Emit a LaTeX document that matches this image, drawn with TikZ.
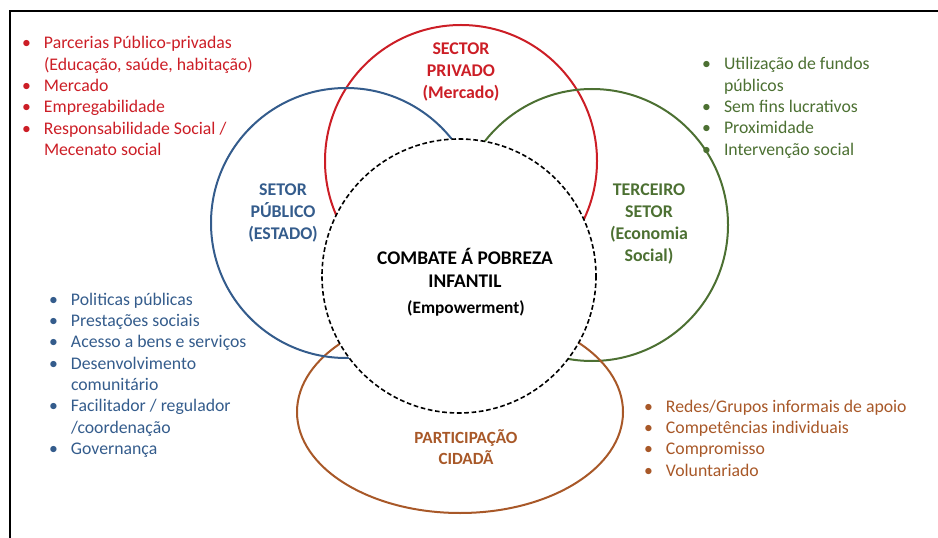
\documentclass[tikz,border=0pt]{standalone}
\usepackage{fontspec}
\setmainfont{Carlito}
\usetikzlibrary{positioning}
\definecolor{privred}{RGB}{204,30,38}
\definecolor{pubblue}{RGB}{52,92,140}
\definecolor{tercgreen}{RGB}{76,112,50}
\definecolor{cidbrown}{RGB}{168,88,40}
\newcommand{\itm}{\makebox[16.5pt][l]{\textbullet}}
\newcommand{\txt}{\fontsize{13.3}{16}\selectfont}

\begin{document}
\begin{tikzpicture}[x=0.75pt,y=-0.75pt,line width=1.5pt,
        setor/.style={align=center,inner sep=0pt,font=\fontsize{13.4}{16.5}\selectfont\bfseries},
        lista/.style={anchor=base west,inner sep=0pt,font=\txt}]
    \useasboundingbox (0,0) rectangle (938,538);
    \draw (938,11) -- (10,11) -- (10,538);
    % circulos
    \draw[privred] (461,161) circle [radius=136];
    \draw[tercgreen] (592,225) circle [radius=136];
    \draw[cidbrown] (460,412) ellipse [x radius=163, y radius=101];
    \draw[pubblue] (346,223) circle [radius=135];
    \draw[dash pattern=on 3.5pt off 2pt,line width=1.2pt,fill=white] (459,276) circle [radius=137];
    % titulos
    \node[setor,text=privred] (privado) at (461,72) {SECTOR\\PRIVADO\\(Mercado)};
    \node[setor,text=pubblue] (publico) at (283,213) {SETOR\\PÚBLICO\\(ESTADO)};
    \node[setor,text=tercgreen] (terceiro) at (649,224) {TERCEIRO\\SETOR\\(Economia\\Social)};
    \node[setor,font=\fontsize{14.5}{17}\selectfont\bfseries] (combate) at (465,268) {COMBATE Á POBREZA\\INFANTIL};
    \node[setor,font=\fontsize{13}{15}\selectfont\bfseries] (empower) at (466,308) {(Empowerment)};
    \node[setor,text=cidbrown,font=\fontsize{12.8}{16}\selectfont\bfseries] (cidada) at (466,447) {PARTICIPAÇÃO\\CIDADÃ};
    % listas
    \node[lista,text=privred] (listaPrivado) at (21,49) {\begin{tabular}[t]{@{}l@{}l@{}}
        \itm & Parcerias Público-privadas\\
             & (Educação, saúde, habitação)\\
        \itm & Mercado\\
        \itm & Empregabilidade\\
        \itm & Responsabilidade Social /\\
             & Mecenato social
    \end{tabular}};
    \node[lista,text=tercgreen] (listaTerceiro) at (701,70) {\begin{tabular}[t]{@{}l@{}l@{}}
        \itm & Utilização de fundos\\
             & públicos\\
        \itm & Sem fins lucrativos\\
        \itm & Proximidade\\
        \itm & Intervenção social
    \end{tabular}};
    \node[lista,text=pubblue] (listaPublico) at (48,305) {\begin{tabular}[t]{@{}l@{}l@{}}
        \itm & Politicas públicas\\
        \itm & Prestações sociais\\
        \itm & Acesso a bens e serviços\\
        \itm & Desenvolvimento\\
             & comunitário\\
        \itm & Facilitador / regulador\\
             & /coordenação\\
        \itm & Governança
    \end{tabular}};
    \node[lista,text=cidbrown] (listaCidada) at (643,412) {\begin{tabular}[t]{@{}l@{}l@{}}
        \itm & Redes/Grupos informais de apoio\\
        \itm & Competências individuais\\
        \itm & Compromisso\\
        \itm & Voluntariado
    \end{tabular}};
\end{tikzpicture}
\end{document}
